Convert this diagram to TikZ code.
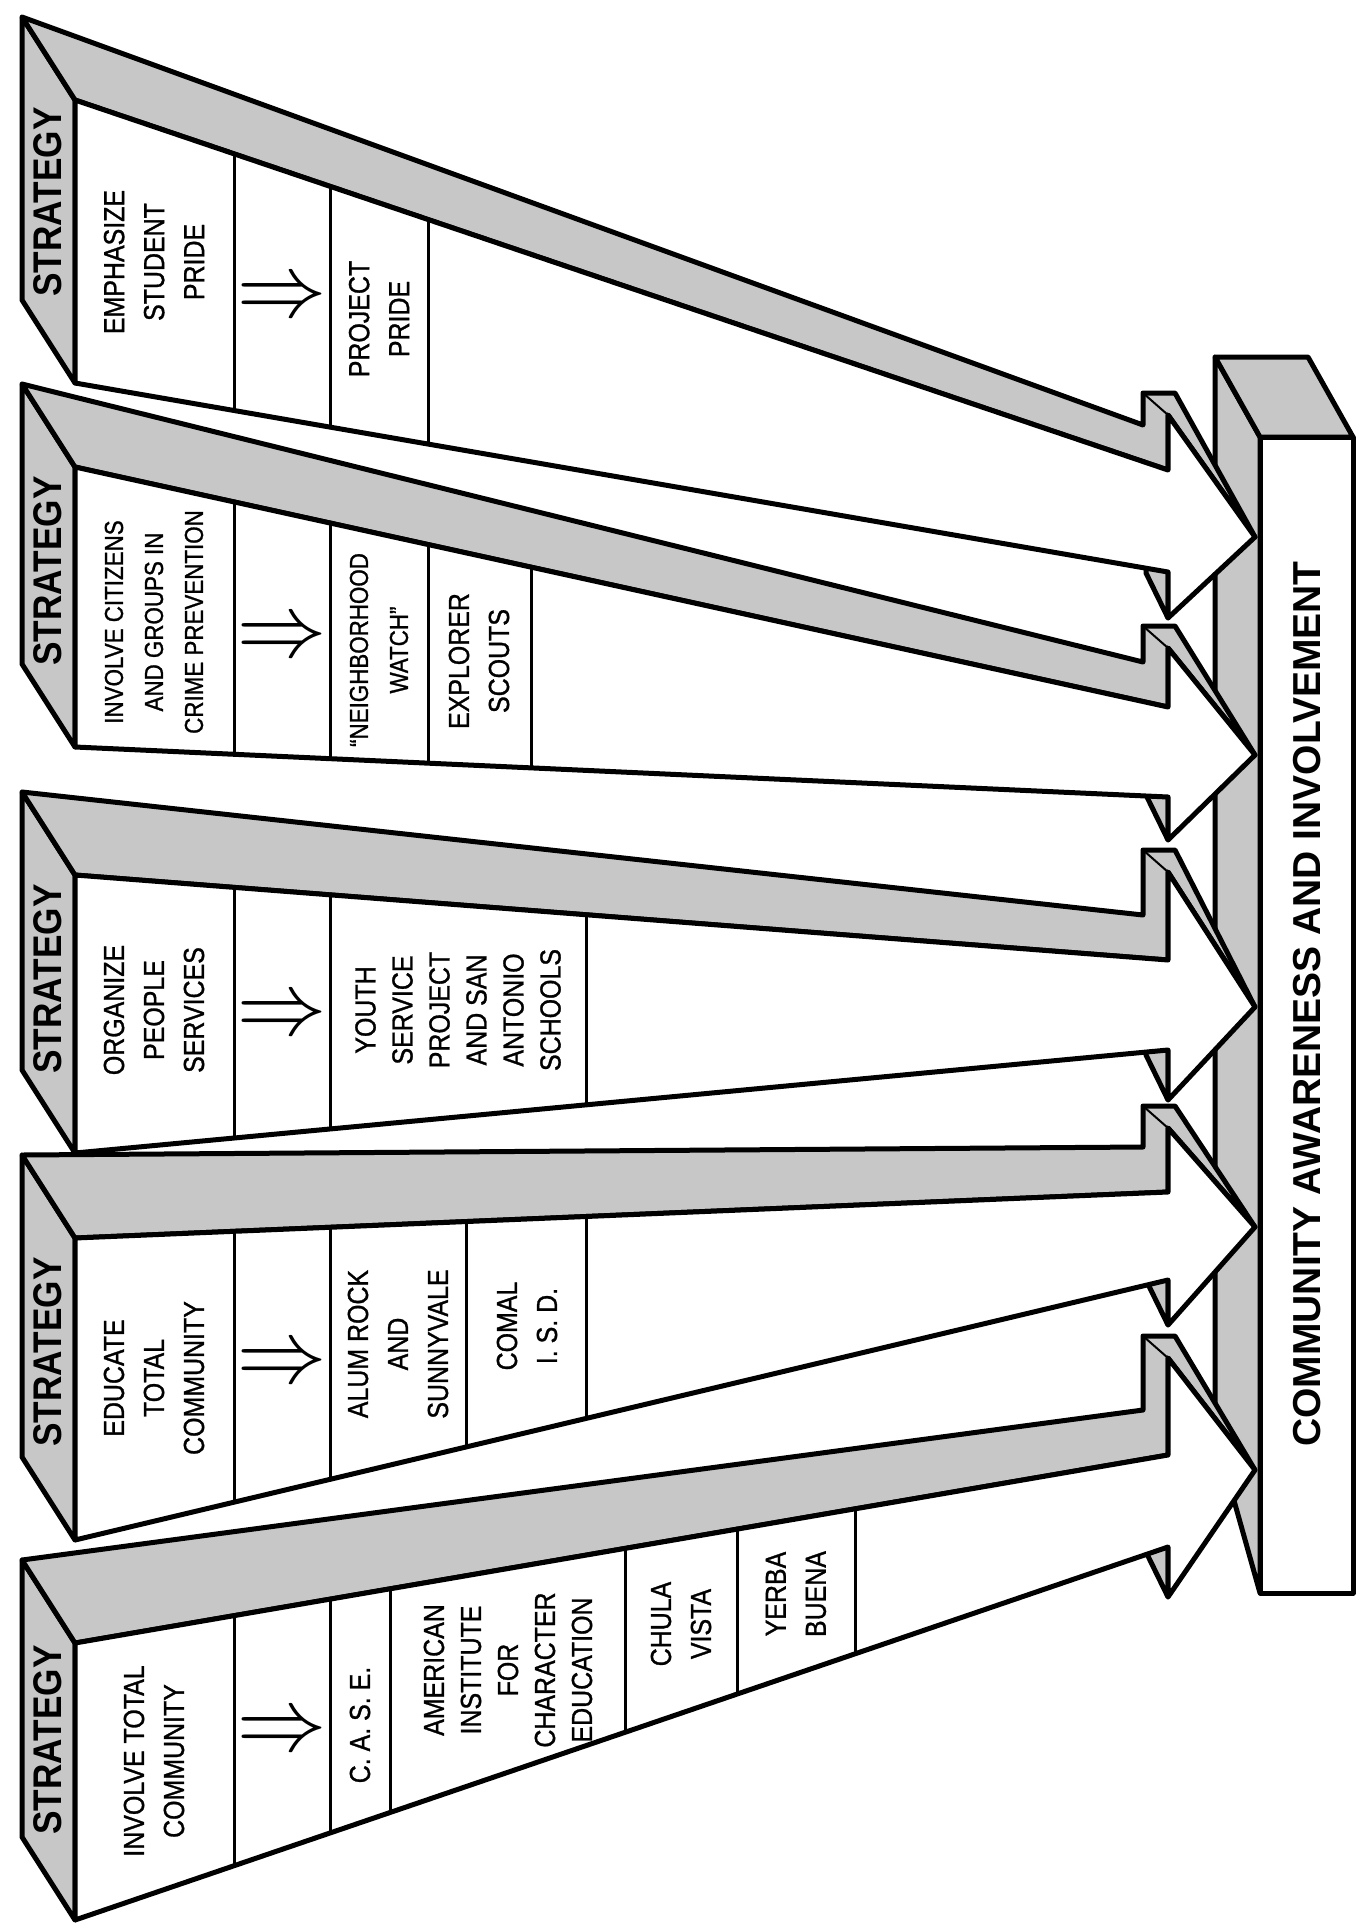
\documentclass[tikz,border=0pt]{standalone}
\usepackage{fontspec}
\setmainfont{Liberation Sans}
\newfontfamily\cellfont{Liberation Sans}[Ligatures=TeX,FakeStretch=0.86,FakeBold=1]
\newfontfamily\stratfont{Liberation Sans}[FakeStretch=0.88]
\usetikzlibrary{calc}
\tikzset{
    % shaded sides of the blocks
    side/.style={draw,fill=black!22,line width=2.5pt,line join=round},
    % white front faces
    face/.style={draw,fill=white,line width=2.5pt,line join=round},
    % lines between the cells
    divider/.style={line width=1.5pt},
    % texts in the cells
    cell/.style={rotate=90,align=center,font=\cellfont\fontsize{14.5}{20}\selectfont},
    % cells with many lines
    tightcell/.style={cell,font=\cellfont\fontsize{14.5}{18.5}\selectfont},
    % cells with long lines
    narrowcell/.style={cell,font=\cellfont\fontsize{13}{20}\selectfont},
    % label on the end of each arrow
    strat/.style={rotate=90,font=\stratfont\fontsize{20}{20}\selectfont\bfseries},
    % implies sign
    implies/.style={rotate=90,inner sep=0pt},
    % text on the bar
    goaltext/.style={rotate=90,font=\fontsize{19.5}{20}\selectfont\bfseries}
}
\begin{document}
\begin{tikzpicture}[x=0.5pt,y=-0.5pt]
    \useasboundingbox (0,0) rectangle (1363,1928);

    % Goal bar (right)
    \coordinate (bar-tl) at (1260,437);
    \coordinate (bar-br) at (1353,1593);
    \draw[side] (bar-tl) -- ++(-45,-80) -- ++(0,1076) -- (1260,1593) -- cycle;
    \draw[side] (bar-tl) -- ++(-45,-80) -- ++(93,0) -- (1353,437) -- cycle;
    \draw[face] (bar-tl) rectangle (bar-br);
    \node[goaltext] (goal) at (1307,1004) {COMMUNITY AWARENESS AND INVOLVEMENT};

    % Strategy arrows: left corners, shaft ends, barbs and tip
    \foreach \n/\ytl/\ybl/\ytr/\ybr/\yup/\ytip/\ylo in
        {1/1643/1920/1455/1547/1358/1470/1597,
         2/1238/1540/1192/1280/1128/1227/1325,
         3/875/1153/960/1050/872/1007/1100,
         4/467/747/707/797/648/755/840,
         5/100/383/470/572/415/537/618}{
        \coordinate (a\n-tl) at (75,\ytl);
        \coordinate (a\n-bl) at (75,\ybl);
        \coordinate (a\n-tr) at (1168,\ytr);
        \coordinate (a\n-br) at (1168,\ybr);
        \coordinate (a\n-up) at (1168,\yup);
        \coordinate (a\n-tip) at (1255,\ytip);
        \coordinate (a\n-lo) at (1168,\ylo);
        % end face
        \draw[side] (a\n-tl) -- ++(-53,-83) -- ($(a\n-bl)+(-53,-83)$) -- (a\n-bl) -- cycle;
        % top of the shaft and upper barb
        \draw[side] (a\n-tl) -- ++(-53,-83) -- ($(a\n-tr)+(-25,-45)$)
            -- ($(a\n-up)+(-25,-22)$) -- ($(a\n-up)+(7,-22)$) -- (a\n-tip)
            -- (a\n-up) -- (a\n-tr) -- cycle;
        \draw[line width=1pt] (a\n-up) -- ++(-25,-22);
        % lower barb
        \draw[side] (a\n-br) -- (a\n-lo) -- ++(-22,-45) -- ($(a\n-br)+(-22,-45)$) -- cycle;
        % front face
        \draw[face] (a\n-tl) -- (a\n-tr) -- (a\n-up) -- (a\n-tip) -- (a\n-lo)
            -- (a\n-br) -- (a\n-bl) -- cycle;
    }

    % Cell dividers
    \foreach \n/\cuts in {1/{0.1455,0.2333,0.2891,0.5041,0.6057,0.7145},
                          2/{0.1455,0.2333,0.3586,0.4684},
                          3/{0.1455,0.2333,0.4684},
                          4/{0.1455,0.2333,0.323,0.4172},
                          5/{0.1455,0.2333,0.323}}{
        \foreach \t in \cuts
            \draw[divider] ($(a\n-tl)!\t!(a\n-tr)$) -- ($(a\n-bl)!\t!(a\n-br)$);
    }

    % Labels on the end faces
    \node[strat] (s1) at (48,1740) {STRATEGY};
    \node[strat] (s2) at (48,1352) {STRATEGY};
    \node[strat] (s3) at (48,979) {STRATEGY};
    \node[strat] (s4) at (48,571) {STRATEGY};
    \node[strat] (s5) at (48,202) {STRATEGY};

    % Implies signs
    \node[implies] (i1) at (282,1728) {\scalebox{4.5}{$\Downarrow$}};
    \node[implies] (i2) at (282,1360) {\scalebox{4.5}{$\Downarrow$}};
    \node[implies] (i3) at (282,1012) {\scalebox{4.5}{$\Downarrow$}};
    \node[implies] (i4) at (282,634) {\scalebox{4.5}{$\Downarrow$}};
    \node[implies] (i5) at (282,294) {\scalebox{4.5}{$\Downarrow$}};

    % Strategy 1
    \node[cell] (a1-aim) at (154,1761) {INVOLVE TOTAL\\COMMUNITY};
    \node[cell] (a1-case) at (360,1725) {C. A. S. E.};
    \node[tightcell] (a1-aice) at (508,1670) {AMERICAN\\INSTITUTE\\FOR\\CHARACTER\\EDUCATION};
    \node[cell] (a1-chula) at (681,1624) {CHULA\\VISTA};
    \node[cell] (a1-yerba) at (796,1594) {YERBA\\BUENA};

    % Strategy 2
    \node[cell] (a2-aim) at (154,1378) {EDUCATE\\TOTAL\\COMMUNITY};
    \node[cell] (a2-alum) at (398,1344) {ALUM ROCK\\AND\\SUNNYVALE};
    \node[cell] (a2-comal) at (527,1326) {COMAL\\I. S. D.};

    % Strategy 3
    \node[cell] (a3-aim) at (154,1010) {ORGANIZE\\PEOPLE\\SERVICES};
    \node[tightcell] (a3-youth) at (458,1010) {YOUTH\\SERVICE\\PROJECT\\AND SAN\\ANTONIO\\SCHOOLS};

    % Strategy 4
    \node[narrowcell] (a4-aim) at (154,622) {INVOLVE CITIZENS\\AND GROUPS IN\\CRIME PREVENTION};
    \node[narrowcell] (a4-watch) at (379,650) {``NEIGHBORHOOD\\WATCH''};
    \node[cell] (a4-scouts) at (479,661) {EXPLORER\\SCOUTS};

    % Strategy 5
    \node[cell] (a5-aim) at (154,262) {EMPHASIZE\\STUDENT\\PRIDE};
    \node[cell] (a5-pride) at (379,319) {PROJECT\\PRIDE};
\end{tikzpicture}
\end{document}
